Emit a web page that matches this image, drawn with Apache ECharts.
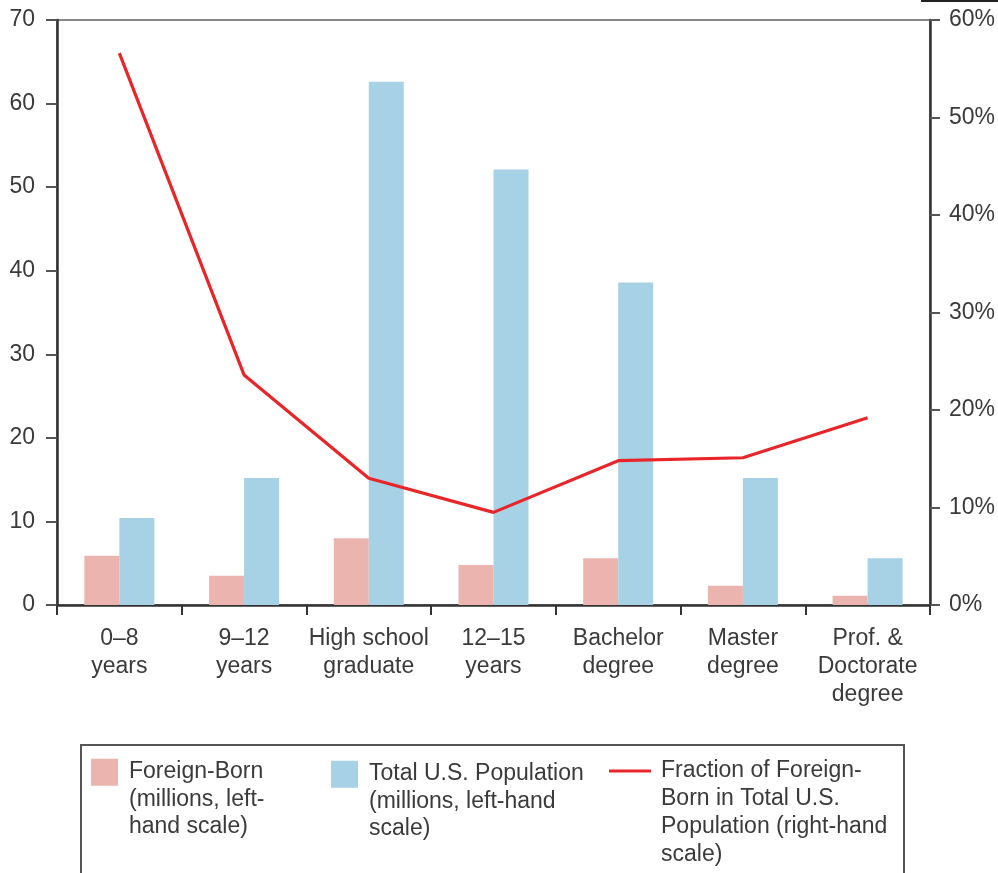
<!DOCTYPE html>
<html>
<head>
<meta charset="utf-8">
<script src="https://cdn.jsdelivr.net/npm/echarts@6/dist/echarts.min.js"></script>
<style>
  html, body { margin: 0; padding: 0; background: #fff; }
  #chart { width: 998px; height: 873px; }
</style>
</head>
<body>
<div id="chart"></div>
<script type="text/javascript">
// 分类 (education level)
var categories = ['0\u20138\nyears', '9\u201312\nyears', 'High school\ngraduate', '12\u201315\nyears',
                  'Bachelor\ndegree', 'Master\ndegree', 'Prof. &\nDoctorate\ndegree'];
// millions, left axis
var foreignBorn = [5.9, 3.5, 8.0, 4.8, 5.6, 2.3, 1.1];
var totalPop = [10.4, 15.2, 62.6, 52.1, 38.6, 15.2, 5.6];
// percent, right axis
var fraction = [56.6, 23.6, 13.0, 9.5, 14.8, 15.1, 19.2];

var leftTicks = { min: 0, max: 70, interval: 10 };
var rightTicks = { min: 0, max: 60, interval: 10 };

var seriesNames = ['Foreign-Born', 'Total U.S. Population', 'Fraction of Foreign-Born'];
var legendTexts = [
    'Foreign-Born\n(millions, left-\nhand scale)',
    'Total U.S. Population\n(millions, left-hand\nscale)',
    'Fraction of Foreign-\nBorn in Total U.S.\nPopulation (right-hand\nscale)'
];

var FONT = 'Liberation Sans';
var TXT = '#3a3a3a';
var AXIS = '#333';

// icon paths: the mark sits at the first text line, the empty points stretch the box
var squareIcon = 'path://M0,0L27,0L27,27L0,27Z M33,81L33,81';
var lineIcon = 'path://M0,12.5L42,12.5L42,15.5L0,15.5Z M0,0L0,0 M47,112L47,112';

function legendItem(i, left, top, w, h, icon, lh) {
    return {
        data: [seriesNames[i]],
        left: left,
        top: top,
        padding: 0,
        icon: icon,
        itemWidth: w,
        itemHeight: h,
        selectedMode: false,
        formatter: function () { return legendTexts[i]; },
        textStyle: {
            fontFamily: FONT,
            fontSize: 23,
            color: TXT,
            lineHeight: lh
        }
    };
}

var myChart = echarts.init(document.getElementById('chart'), null, { renderer: 'canvas' });
var option = {
    backgroundColor: '#fff',
    animation: false,
    grid: {
        left: 57, right: 68, top: 20, bottom: 268,
        show: true, borderColor: '#888', borderWidth: 2
    },
    // 图例 - three separate legends inside the box
    legend: [
        legendItem(0, 91, 758, 33, 81, squareIcon, 27.5),
        legendItem(1, 331, 760, 33, 81, squareIcon, 27.5),
        legendItem(2, 609, 757, 47, 112, lineIcon, 28)
    ],
    graphic: [
        { type: 'rect', shape: { x: 81, y: 745, width: 823, height: 150 },
          style: { fill: 'none', stroke: '#555', lineWidth: 2 } },
        { type: 'rect', shape: { x: 921, y: 0, width: 77, height: 2 },
          style: { fill: '#222' } }
    ],
    xAxis: {
        type: 'category',
        data: categories,
        axisLine: { lineStyle: { color: AXIS, width: 2.5 } },
        axisTick: { show: true, length: 10, lineStyle: { color: AXIS, width: 2 } },
        axisLabel: {
            interval: 0, margin: 20,
            fontFamily: FONT, fontSize: 23, color: TXT, lineHeight: 28
        }
    },
    yAxis: [{
        type: 'value',
        min: leftTicks.min, max: leftTicks.max, interval: leftTicks.interval,
        position: 'left',
        axisLine: { show: true, lineStyle: { color: AXIS, width: 2.5 } },
        axisTick: { show: true, length: 11, lineStyle: { color: '#555', width: 2 } },
        axisLabel: { margin: 22, fontFamily: FONT, fontSize: 23, color: TXT },
        splitLine: { show: false }
    }, {
        type: 'value',
        min: rightTicks.min, max: rightTicks.max, interval: rightTicks.interval,
        position: 'right',
        axisLine: { show: true, lineStyle: { color: AXIS, width: 2.5 } },
        axisTick: { show: true, length: 10, lineStyle: { color: '#555', width: 2 } },
        axisLabel: { margin: 19, fontFamily: FONT, fontSize: 23, color: TXT, formatter: '{value}%' },
        splitLine: { show: false }
    }],
    series: [{
        name: seriesNames[0],
        type: 'bar',
        yAxisIndex: 0,
        barWidth: 35,
        barGap: '0%',
        color: '#ebb4ae',
        data: foreignBorn
    }, {
        name: seriesNames[1],
        type: 'bar',
        yAxisIndex: 0,
        barWidth: 35,
        barGap: '0%',
        color: '#a7d1e5',
        data: totalPop
    }, {
        name: seriesNames[2],
        type: 'line',
        yAxisIndex: 1,
        symbol: 'none',
        color: '#e8262a',
        lineStyle: { width: 3.2, color: '#e8262a' },
        z: 5,
        data: fraction
    }]
};
myChart.setOption(option);
</script>
</body>
</html>
